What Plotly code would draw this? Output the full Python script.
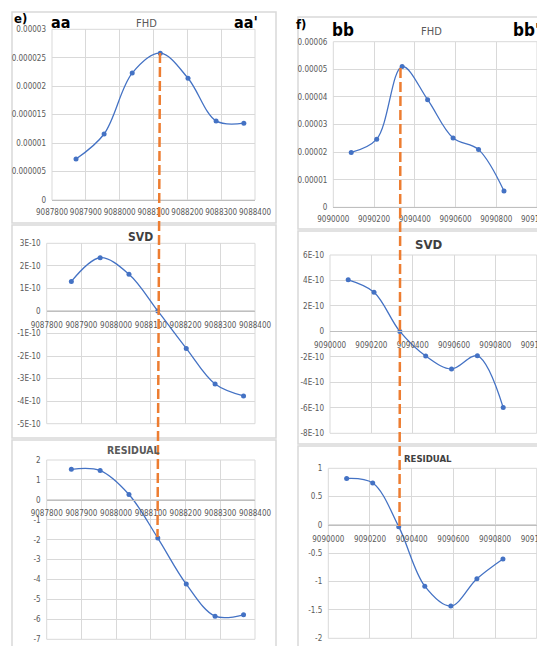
import plotly.graph_objects as go

W, H = 545, 646

# ---------------- data ----------------
# profile aa - aa'
aa_x = [9087871, 9087954, 9088037, 9088120, 9088202, 9088285, 9088367]
aa_fhd = [7.2e-6, 11.6e-6, 22.3e-6, 25.8e-6, 21.4e-6, 13.9e-6, 13.5e-6]
aa_svd = [1.31e-10, 2.36e-10, 1.63e-10, 0.0, -1.66e-10, -3.24e-10, -3.77e-10]
aa_res = [1.53, 1.47, 0.27, -1.92, -4.23, -5.84, -5.77]

# profile bb - bb'
bb_x = [9090088, 9090213, 9090338, 9090463, 9090588, 9090713, 9090838]
bb_fhd = [1.99e-5, 2.47e-5, 5.10e-5, 3.90e-5, 2.51e-5, 2.09e-5, 0.59e-5]
bb_svd = [4.05e-10, 3.08e-10, 0.0, -1.93e-10, -2.95e-10, -1.92e-10, -5.98e-10]
bb_res = [0.82, 0.74, -0.03, -1.08, -1.43, -0.95, -0.60]

# tick values / labels
aa_xticks = [9087800, 9087900, 9088000, 9088100, 9088200, 9088300, 9088400]
aa_xlabels = ["9087800", "9087900", "9088000", "9088100", "9088200", "9088300", "9088400"]
bb_xticks = [9090000, 9090200, 9090400, 9090600, 9090800, 9091000]
bb_xlabels = ["9090000", "9090200", "9090400", "9090600", "9090800", "9091000"]

aa_fhd_ticks = [0, 0.000005, 0.00001, 0.000015, 0.00002, 0.000025, 0.00003]
aa_fhd_labels = ["0", "0.000005", "0.00001", "0.000015", "0.00002", "0.000025", "0.00003"]
aa_svd_ticks = [-5e-10, -4e-10, -3e-10, -2e-10, -1e-10, 0, 1e-10, 2e-10, 3e-10]
aa_svd_labels = ["-5E-10", "-4E-10", "-3E-10", "-2E-10", "-1E-10", "0", "1E-10", "2E-10", "3E-10"]
aa_res_ticks = [-7, -6, -5, -4, -3, -2, -1, 0, 1, 2]
aa_res_labels = ["-7", "-6", "-5", "-4", "-3", "-2", "-1", "0", "1", "2"]

bb_fhd_ticks = [0, 0.00001, 0.00002, 0.00003, 0.00004, 0.00005, 0.00006]
bb_fhd_labels = ["0", "0.00001", "0.00002", "0.00003", "0.00004", "0.00005", "0.00006"]
bb_svd_ticks = [-8e-10, -6e-10, -4e-10, -2e-10, 0, 2e-10, 4e-10, 6e-10]
bb_svd_labels = ["-8E-10", "-6E-10", "-4E-10", "-2E-10", "0", "2E-10", "4E-10", "6E-10"]
bb_res_ticks = [-2, -1.5, -1, -0.5, 0, 0.5, 1]
bb_res_labels = ["-2", "-1.5", "-1", "-0.5", "0", "0.5", "1"]

# ---------------- layout helpers ----------------
# the page body adds an 8px margin; positions below are given in window pixels
OFF = 8

def fx(p):
    return (p - OFF) / W

def fy(p):
    return 1 - (p - OFF) / H

NARROW = "DejaVu Sans Condensed, Liberation Sans, sans-serif"
BLUE = "#4472C4"
ORANGE = "#ED7D31"
GRID = "#d9d9d9"
TICKC = "#595959"
TICKSIZE = 8

panels = [
    # x data, y data, x ticks, x labels, x range, y ticks, y labels, y range, x px domain, y px domain (top, bottom), free x axis
    (aa_x, aa_fhd, aa_xticks, aa_xlabels, (9087800, 9088400), aa_fhd_ticks, aa_fhd_labels, (0, 0.00003), (52, 255), (29.3, 200), False),
    (aa_x, aa_svd, aa_xticks, aa_xlabels, (9087800, 9088400), aa_svd_ticks, aa_svd_labels, (-5e-10, 3e-10), (46.7, 255), (243.3, 423.7), True),
    (aa_x, aa_res, aa_xticks, aa_xlabels, (9087800, 9088400), aa_res_ticks, aa_res_labels, (-7, 2), (46.7, 255), (460, 639.3), True),
    (bb_x, bb_fhd, bb_xticks, bb_xlabels, (9090000, 9091000), bb_fhd_ticks, bb_fhd_labels, (0, 0.00006), (333.3, 537), (41.7, 207.3), False),
    (bb_x, bb_svd, bb_xticks, bb_xlabels, (9090000, 9091000), bb_svd_ticks, bb_svd_labels, (-8e-10, 6e-10), (330, 536.7), (255, 433.3), True),
    (bb_x, bb_res, bb_xticks, bb_xlabels, (9090000, 9091000), bb_res_ticks, bb_res_labels, (-2, 1), (328.3, 536.7), (468.3, 638.3), True),
]

fig = go.Figure()
layout = dict(
    width=W, height=H,
    margin=dict(l=0, r=0, t=0, b=0, pad=0, autoexpand=False),
    paper_bgcolor="white", plot_bgcolor="white",
    showlegend=False,
    font=dict(family=NARROW, size=TICKSIZE, color=TICKC),
)
shapes = []

# panel frames (chart areas)
frames = [
    (12, 276, 12, 223), (12, 276, 225, 438), (12, 276, 440, 700),
    (298, 620, 17, 229), (298, 620, 231, 444), (298, 620, 446, 700),
]
for x0, x1, y0, y1 in frames:
    shapes.append(dict(type="rect", xref="paper", yref="paper",
                       x0=fx(x0), x1=fx(x1), y0=fy(y1), y1=fy(y0),
                       line=dict(color="#d9d9d9", width=1.5), fillcolor="white", layer="below"))

for i, (xs, ys, xt, xl, xr, yt, yl, yr, xd, yd, free) in enumerate(panels, start=1):
    xa = "x" if i == 1 else f"x{i}"
    ya = "y" if i == 1 else f"y{i}"
    xkey = "xaxis" if i == 1 else f"xaxis{i}"
    ykey = "yaxis" if i == 1 else f"yaxis{i}"
    fig.add_trace(go.Scatter(
        x=xs, y=ys, xaxis=xa, yaxis=ya, mode="lines+markers",
        line=dict(color=BLUE, width=1.3, shape="spline", smoothing=1.0),
        marker=dict(color=BLUE, size=5), hoverinfo="skip"))
    ydom = [fy(yd[1]), fy(yd[0])]
    xaxis = dict(domain=[fx(xd[0]), fx(xd[1])], range=list(xr), tickmode="array",
                 tickvals=xt, ticktext=xl, showgrid=True, gridcolor=GRID, gridwidth=1,
                 zeroline=False, showline=True, linecolor="#bfbfbf", linewidth=1,
                 ticks="", tickangle=0, tickfont=dict(family=NARROW, size=TICKSIZE, color=TICKC),
                 ticklabeloverflow="allow", ticklabelstandoff=4, automargin=False, fixedrange=True)
    if free:
        pos = ydom[0] + (0 - yr[0]) / (yr[1] - yr[0]) * (ydom[1] - ydom[0])
        xaxis.update(anchor="free", position=pos, ticklabelstandoff=6)
    else:
        xaxis.update(anchor=ya)
    layout[xkey] = xaxis
    layout[ykey] = dict(domain=ydom, range=list(yr), anchor=xa, tickmode="array",
                        tickvals=yt, ticktext=yl, showgrid=True, gridcolor=GRID, gridwidth=1,
                        zeroline=False, showline=False, ticks="",
                        tickfont=dict(family=NARROW, size=TICKSIZE, color=TICKC),
                        ticklabeloverflow="allow", ticklabelstandoff=5,
                        automargin=False, fixedrange=True)
    # plot-area outline
    shapes.append(dict(type="rect", xref=f"{xa} domain", yref=f"{ya} domain",
                       x0=0, x1=1, y0=0, y1=1, line=dict(color=GRID, width=1), layer="below"))

# dashed orange marker lines across the three charts
shapes.append(dict(type="line", xref="paper", yref="paper",
                   x0=fx(160), y0=fy(53), x1=fx(157.5), y1=fy(537),
                   line=dict(color=ORANGE, width=2.5, dash="10px,4px")))
shapes.append(dict(type="line", xref="paper", yref="paper",
                   x0=fx(400.5), y0=fy(68), x1=fx(399.5), y1=fy(526),
                   line=dict(color=ORANGE, width=2.5, dash="10px,4px")))
layout["shapes"] = shapes

# texts: (text, x px, y px, size, bold, color)
texts = [
    ("FHD", 146.7, 23.3, 11, False, "#595959"),
    ("SVD", 140, 237, 12, True, "#404040"),
    ("RESIDUAL", 133.3, 450, 10.5, True, "#595959"),
    ("FHD", 431.7, 31.7, 11, False, "#595959"),
    ("SVD", 428.3, 244, 13, True, "#404040"),
    ("RESIDUAL", 428.3, 458.3, 9.5, True, "#404040"),
    ("e)", 20.5, 19, 13, True, "black"),
    ("aa", 60.5, 22.5, 16, True, "black"),
    ("aa'", 246, 22.5, 16, True, "black"),
    ("f)", 301, 24.5, 13, True, "black"),
    ("bb", 342.5, 30, 17, True, "black"),
    ("bb'", 526, 30, 17, True, "black"),
]
anns = []
for t, x, y, s, b, c in texts:
    anns.append(dict(text=f"<b>{t}</b>" if b else t, x=fx(x), y=fy(y), xref="paper", yref="paper",
                     xanchor="center", yanchor="middle", showarrow=False,
                     font=dict(family=NARROW, size=s, color=c)))
layout["annotations"] = anns

fig.update_layout(**layout)
fig.write_html("out.html")
